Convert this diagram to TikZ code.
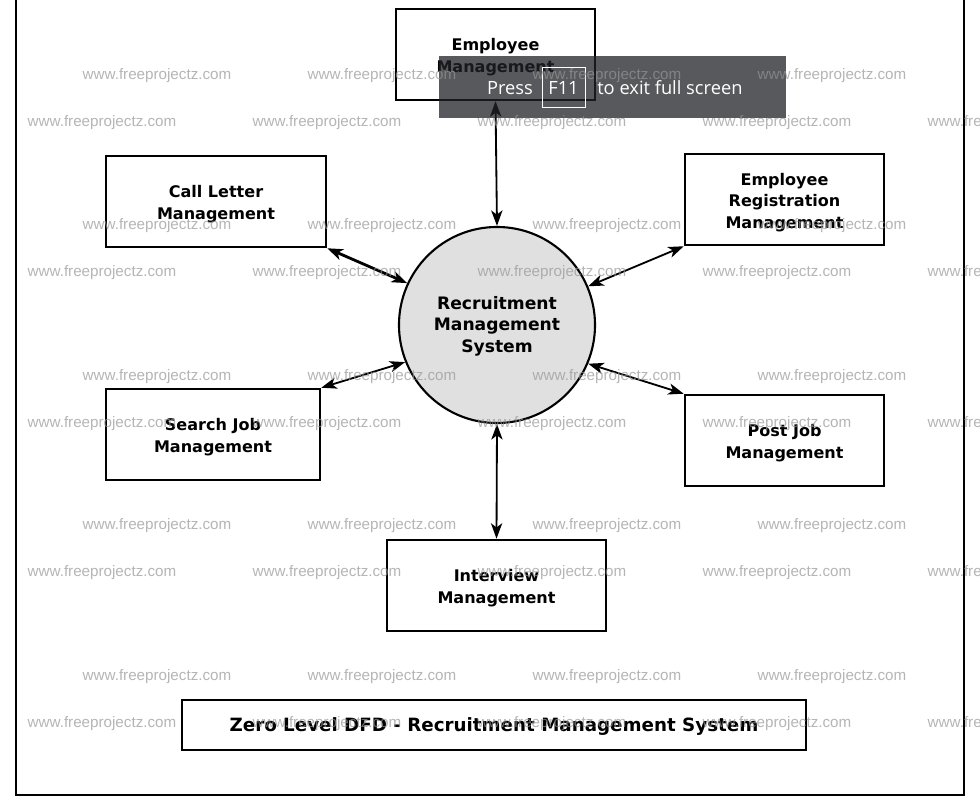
\documentclass[tikz,border=0pt]{standalone}
\usepackage{fontspec}
\setmainfont{DejaVu Sans}
\newfontfamily\wmfont{Liberation Sans}
\newfontfamily\osdfont{Open Sans}
\usetikzlibrary{arrows.meta}
\tikzset{
  proc/.style={draw, line width=1.8pt, rectangle, inner sep=0pt, minimum height=2.275cm},
  lbl/.style={align=center, inner sep=0pt, yshift=-2.1pt, font=\fontsize{11.4}{15.5}\selectfont\bfseries},
  hub/.style={draw, line width=1.5pt, circle, fill={rgb,255:red,224;green,224;blue,224},
    minimum size=4.9cm, inner sep=0pt},
  flow/.style={line width=1.3pt, {Stealth[length=11pt,width=8pt,inset=3pt]}-{Stealth[length=11pt,width=8pt,inset=3pt]}},
  wmark/.style={font=\wmfont\fontsize{10.8}{12}\selectfont, text={rgb,255:red,150;green,150;blue,150},
    text opacity=0.7, inner sep=0pt},
}
\begin{document}
\begin{tikzpicture}[x=0.025cm, y=-0.025cm]
\clip (0,0) rectangle (980,800);
\fill[white] (0,0) rectangle (980,800);
\draw[line width=1.8pt] (16,-10) rectangle (964,795);
% processes
\node[hub, label={[lbl, yshift=1.4pt, font=\fontsize{12.2}{15.3}\selectfont\bfseries]center:Recruitment\\Management\\System}] (sys) at (497,325) {};
\node[proc, minimum width=4.975cm, label={[lbl]center:Employee\\Management}] (emp) at (495.5,54.5) {};
\node[proc, minimum width=5.5cm, label={[lbl]center:Call Letter\\Management}] (call) at (216,201.5) {};
\node[proc, minimum width=4.975cm, label={[lbl]center:Employee\\Registration\\Management}] (reg) at (784.5,199.5) {};
\node[proc, minimum width=5.35cm, label={[lbl]center:Search Job\\Management}] (search) at (213,434.5) {};
\node[proc, minimum width=4.975cm, label={[lbl]center:Post Job\\Management}] (post) at (784.5,440.5) {};
\node[proc, minimum width=5.475cm, label={[lbl]center:Interview\\Management}] (inter) at (496.5,585.5) {};
\node[proc, minimum width=15.6cm, minimum height=1.25cm, font=\fontsize{13}{15}\selectfont\bfseries,
  execute at begin node={\rule{0pt}{12.4pt}}] (title) at (494,725) {Zero Level DFD - Recruitment Management System};
% flows
\draw[flow] (emp.south) -- (sys.north);
\draw[flow, line width=2pt] (call.south east) -- (sys.155);
\draw[flow] (reg.south west) -- (sys.23);
\draw[flow] (search.north east) -- (sys.202);
\draw[flow] (post.north west) -- (sys.-23);
\draw[flow] (inter.north) -- (sys.south);
% full screen notice
\fill[fill={rgb,255:red,32;green,34;blue,38}, fill opacity=0.75] (439,56) rectangle (786,118);
\draw[white, line width=0.6pt] (542,67) rectangle (585,107);
\node[text=white, font=\osdfont\fontsize{13}{15}\selectfont] (press) at (510,88) {Press};
\node[text=white, font=\osdfont\fontsize{13}{15}\selectfont] (key) at (563.5,88) {F11};
\node[text=white, font=\osdfont\fontsize{13}{15}\selectfont, anchor=west, inner sep=0pt] (exit) at (597,88) {to exit full screen};
% watermarks
\foreach \y in {76,226,377,526,677} {
  \foreach \x in {157,382,607,832}
    \node[wmark] (wa-\x-\y) at (\x,\y) {www.freeprojectz.com};
  \foreach \x in {102,327,552,777,1002}
    \node[wmark] (wb-\x-\y) at (\x,\y+47) {www.freeprojectz.com};
}
\end{tikzpicture}
\end{document}
